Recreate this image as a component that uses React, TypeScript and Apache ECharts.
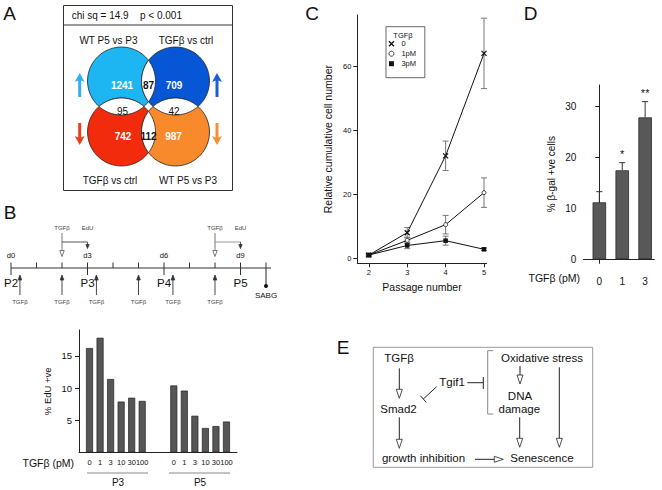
import { useEffect, useRef } from 'react';
import * as echarts from 'echarts';

// ---------- Panel A (Venn) ----------
const vennTitles = ['WT P5 vs P3', 'TGFβ vs ctrl', 'TGFβ vs ctrl', 'WT P5 vs P3'];
const vennOnly = [1241, 709, 742, 987]; // top-left, top-right, bottom-left, bottom-right
const vennShared = [87, 95, 42, 112]; // top, left, right, bottom overlaps
const chiText = 'chi sq = 14.9';
const pText = 'p < 0.001';

// ---------- Panel B (timeline) ----------
const dayMarks = ['d0', 'd3', 'd6', 'd9'];
const passageMarks = ['P2', 'P3', 'P4', 'P5'];
const tgfDays = [0.35, 2, 3.35, 5, 6.35, 8];
const eduPulses = [[2, 3], [8, 9]];

// ---------- Panel B (EdU bars) ----------
const eduDoses = ['0', '1', '3', '10', '30', '100'];
const eduP3 = [16.2, 17.8, 11.4, 7.9, 8.5, 8.0];
const eduP5 = [10.4, 9.6, 5.7, 3.8, 4.1, 4.8];
const eduTicks = [5, 10, 15];

// ---------- Panel C (growth) ----------
const passages = [2, 3, 4, 5];
const growth0 = [1, 8, 32, 64];
const growth0Err = [0.3, 1.6, 4.6, 11];
const growth1 = [1, 5.6, 10.5, 20.5];
const growth1Err = [0.3, 1.0, 2.9, 4.6];
const growth3 = [1, 4.0, 5.5, 2.8];
const growth3Err = [0.3, 1.0, 1.4, 0.4];
const growthTicks = [0, 20, 40, 60];
const growthNames = ['0', '1pM', '3pM'];

// ---------- Panel D (SA-beta-gal) ----------
const sabgDoses = ['0', '1', '3'];
const sabgValues = [11.2, 17.5, 27.9];
const sabgErr = [2.1, 1.5, 3.1];
const sabgStars = ['', '*', '**'];
const sabgTicks = [0, 10, 20, 30];

const F = '"Liberation Sans", Arial, Helvetica, sans-serif';
const CROSS = 'path://M0,0L10,10M10,0L0,10';
const SQUARE = 'path://M0,0L10,0L10,10L0,10Z';

function textStyle(text: string, size: number, fill: string, align: string, va: string, bold = false) {
  return {
    text, fontSize: size, fontFamily: F, fontWeight: bold ? 'bold' : 'normal',
    fill, textFill: fill, align, verticalAlign: va, textAlign: align, textVerticalAlign: va,
  };
}
function T(text: string, x: number, y: number, size: number, o: any = {}) {
  return {
    type: 'text', x, y, rotation: o.rot || 0, silent: true,
    style: textStyle(text, size, o.fill || '#111', o.align || 'center', o.va || 'middle', !!o.bold),
  };
}
function L(x1: number, y1: number, x2: number, y2: number, stroke = '#222', w = 1) {
  return { type: 'line', silent: true, shape: { x1, y1, x2, y2 }, style: { stroke, lineWidth: w } };
}
function P(points: number[][], fill: string, stroke = 'none', w = 0.8) {
  return { type: 'polygon', silent: true, shape: { points }, style: { fill, stroke, lineWidth: w } };
}
function arcPts(cx: number, cy: number, r: number, a0: number, a1: number, n = 28) {
  const pts: number[][] = [];
  for (let i = 0; i <= n; i++) {
    const a = a0 + ((a1 - a0) * i) / n;
    pts.push([cx + r * Math.cos(a), cy + r * Math.sin(a)]);
  }
  return pts;
}
function head(x: number, y: number, dir: string, len: number, half: number, fill: string, stroke = '#222') {
  let pts: number[][];
  if (dir === 'down') pts = [[x - half, y - len], [x + half, y - len], [x, y]];
  else if (dir === 'up') pts = [[x - half, y + len], [x + half, y + len], [x, y]];
  else pts = [[x - len, y - half], [x - len, y + half], [x, y]];
  return P(pts, fill, stroke, 0.8);
}
function fatArrow(x: number, tip: number, tail: number, color: string) {
  const s = tip < tail ? 1 : -1;
  return P([
    [x, tip], [x + 5, tip + 9 * s], [x + 1.5, tip + 7.5 * s], [x + 1.5, tail],
    [x - 1.5, tail], [x - 1.5, tip + 7.5 * s], [x - 5, tip + 9 * s],
  ], color);
}

function buildGraphics() {
  const g: any[] = [];
  // panel letters
  g.push(T('A', 9.5, 13.5, 19), T('B', 10, 212, 19), T('C', 312, 13, 19), T('D', 530.5, 13.5, 19), T('E', 343, 347, 19));

  // ---- Panel A ----
  g.push({ type: 'rect', silent: true, shape: { x: 63.5, y: 5.5, width: 169, height: 185 }, style: { fill: 'none', stroke: '#333', lineWidth: 1 } });
  g.push(L(63.5, 25, 232.5, 25, '#333'));
  g.push(T(chiText, 71.7, 15.3, 10, { align: 'left' }), T(pText, 140, 15.3, 10, { align: 'left' }));
  const r = 34;
  const C = [[121.5, 81], [175.5, 81], [121.5, 132], [175.5, 132]];
  const cols = ['#1db6f3', '#0656d6', '#f22b0c', '#f98a2c'];
  C.forEach((c, i) => g.push({ type: 'circle', silent: true, shape: { cx: c[0], cy: c[1], r }, style: { fill: cols[i], stroke: '#222', lineWidth: 0.8 } }));
  const a = Math.acos(27 / r);
  const b = Math.acos(25.5 / r);
  [81, 132].forEach((cy) => {
    g.push(P([...arcPts(121.5, cy, r, -a, a), ...arcPts(175.5, cy, r, Math.PI - a, Math.PI + a)], '#fff', '#222', 0.8));
  });
  [121.5, 175.5].forEach((cx) => {
    g.push(P([...arcPts(cx, 81, r, Math.PI / 2 - b, Math.PI / 2 + b), ...arcPts(cx, 132, r, -Math.PI / 2 - b, -Math.PI / 2 + b)], '#fff', '#222', 0.8));
  });
  const onlyPos = [[122, 85], [174, 85], [123, 136], [173.5, 136]];
  vennOnly.forEach((v, i) => g.push(T(String(v), onlyPos[i][0], onlyPos[i][1], 10, { bold: true, fill: '#fff' })));
  const sharedPos = [[148.5, 85], [122.5, 111], [174, 111], [148.5, 136]];
  const sharedBold = [true, false, false, true];
  vennShared.forEach((v, i) => g.push(T(String(v), sharedPos[i][0], sharedPos[i][1], 10, { bold: sharedBold[i] })));
  const titlePos = [[108.5, 40.3], [186, 40.3], [110, 180], [188, 180]];
  vennTitles.forEach((t, i) => g.push(T(t, titlePos[i][0], titlePos[i][1], 10)));
  g.push(fatArrow(79.7, 73, 97, '#2fb0ee'), fatArrow(79.7, 145, 123, '#e9401c'));
  g.push(fatArrow(217, 73, 97, '#1a5fd6'), fatArrow(217, 145, 123, '#f5902e'));

  // ---- Panel B timeline ----
  const dx = (d: number) => 11 + 25.5 * d;
  const ly = 268;
  g.push(L(dx(0), ly, dx(10) + 5, ly, '#333', 1));
  for (let d = 0; d <= 10; d++) {
    const major = d % 3 === 0 && d < 10;
    g.push(L(dx(d), ly - 5.5, dx(d), major ? ly + 7 : ly, '#333', 1));
  }
  dayMarks.forEach((t, i) => g.push(T(t, dx(i * 3), 255, 7.5)));
  passageMarks.forEach((t, i) => g.push(T(t, dx(i * 3), 283, 11.5)));
  tgfDays.forEach((d) => {
    const x = dx(d);
    g.push(L(x, 295, x, 279, '#333', 0.9), head(x, 275, 'up', 5, 1.8, '#333', '#333'));
    g.push(T('TGFβ', x, 302, 6, { fill: '#444' }));
  });
  eduPulses.forEach(([dt, de], k) => {
    const x1 = dx(dt), x2 = dx(de);
    g.push(T('TGFβ', x1, 228, 6, { fill: '#444' }), T('EdU', x2, 228, 6, { fill: '#444' }));
    g.push(L(x1, 233, x1, 250.5, '#555', 0.8), head(x1, 256.5, 'down', 6, 2.2, '#fff', '#555'));
    g.push(L(x1, 242, x2, 242, k === 0 ? '#555' : '#999', 1));
    g.push(L(x2, 242, x2, 245, '#333', 0.8), head(x2, 248.5, 'down', 4, 1.6, '#333', '#333'));
  });
  g.push(L(dx(10), ly, dx(10), 286, '#222', 1));
  g.push({ type: 'circle', silent: true, shape: { cx: dx(10), cy: 286, r: 2 }, style: { fill: '#111' } });
  g.push(T('SABG', dx(10), 295.5, 8));

  // ---- Panel B bar extras ----
  g.push(T('TGFβ (pM)', 74, 462.5, 10.5, { align: 'right' }));
  g.push(L(87, 473, 148, 473, '#888', 1), L(169, 473, 230, 473, '#888', 1));
  g.push(T('P3', 118, 482.5, 10), T('P5', 200, 482.5, 10));

  // ---- Panel C legend title ----
  g.push(T('TGFβ', 403, 35, 7.5));

  // ---- Panel D extras ----
  g.push(T('TGFβ (pM)', 580, 277.7, 10.5, { align: 'right' }));

  // ---- Panel E ----
  g.push({ type: 'rect', silent: true, shape: { x: 373.3, y: 347.3, width: 219.4, height: 120 }, style: { fill: 'none', stroke: '#999', lineWidth: 1 } });
  g.push(T('TGFβ', 399, 358.3, 11.5), T('Smad2', 398.5, 409.3, 11.5), T('growth inhibition', 423.5, 458, 11.5));
  g.push(T('Tgif1', 452, 381.7, 11.5), T('Oxidative stress', 542, 357.7, 11.5));
  g.push(T('DNA', 520, 396, 11.5), T('damage', 519.3, 408.8, 11.5), T('Senescence', 542, 458, 11.5));
  const vArrow = (x: number, y1: number, y2: number) => {
    g.push(L(x, y1, x, y2 - 9, '#222', 1), head(x, y2, 'down', 9, 3, '#fff', '#222'));
  };
  vArrow(399.3, 368.3, 398.3);
  vArrow(399.3, 417.3, 448.3);
  vArrow(520, 366, 384);
  vArrow(519.7, 417.3, 447.3);
  vArrow(559.3, 367.3, 447.3);
  g.push(L(475, 459.3, 494, 459.3, '#222', 1), head(503.3, 459.3, 'right', 9, 3, '#fff', '#222'));
  g.push(L(423.3, 399, 436.7, 386.7, '#222', 1), L(420.3, 395.7, 426.3, 402.3, '#222', 1));
  g.push(L(467.3, 382.7, 483.3, 382.7, '#222', 1), L(483.3, 377, 483.3, 389, '#222', 1));
  g.push({ type: 'polyline', silent: true, shape: { points: [[493.3, 350.7], [487.7, 350.7], [487.7, 414], [493.3, 414]] }, style: { fill: 'none', stroke: '#888', lineWidth: 1 } });
  return g;
}

export default function App() {
  const ref = useRef<HTMLDivElement>(null);
  useEffect(() => {
    document.body.style.margin = '0';
    if (!ref.current) return;
    const chart = echarts.init(ref.current, null, { renderer: 'svg' });

    const axisLine = { show: true, lineStyle: { color: '#222', width: 1 } };
    const lbl = (size: number, margin: number, extra: any = {}) => ({ color: '#111', fontSize: size, fontFamily: F, margin, ...extra });

    const bLabels = ['', ...eduDoses, '', '', ...eduDoses, ''];
    const bKeys = bLabels.map((_, i) => 'k' + i);
    const bData: any[] = ['-', ...eduP3, '-', '-', ...eduP5, '-'];

    const errData: number[][] = [];
    [[growth0, growth0Err], [growth1, growth1Err], [growth3, growth3Err]].forEach(([vals, errs]) => {
      vals.forEach((v, i) => errData.push([passages[i], v - errs[i], v + errs[i]]));
    });

    const lineCommon = { type: 'line', xAxisIndex: 1, yAxisIndex: 1, z: 3, lineStyle: { color: '#111', width: 1 } };

    chart.setOption({
      animation: false,
      textStyle: { fontFamily: F },
      grid: [
        { left: 79, top: 330, width: 158, height: 122.5, outerBoundsMode: 'none' },
        { left: 357.3, top: 15, width: 129.4, height: 248.3, outerBoundsMode: 'none' },
        { left: 583.3, top: 85, width: 71, height: 178.3, outerBoundsMode: 'none' },
      ],
      xAxis: [
        {
          gridIndex: 0, type: 'category', data: bKeys, boundaryGap: false, axisLine,
          axisTick: { show: false }, splitLine: { show: false },
          axisLabel: lbl(7.5, 6, { interval: 0, formatter: (_v: string, i: number) => bLabels[i] }),
        },
        {
          gridIndex: 1, type: 'value', min: 1.7, max: 5.07,
          axisLine: { ...axisLine, onZero: false },
          axisTick: { show: true, customValues: passages, length: 4, lineStyle: { color: '#222' } },
          axisLabel: lbl(7.5, 5, { customValues: passages }), splitLine: { show: false },
          name: 'Passage number', nameLocation: 'middle', nameGap: 16,
          nameTextStyle: { fontSize: 10.5, color: '#111', fontFamily: F },
        },
        {
          gridIndex: 2, type: 'value', min: -0.7, max: 2.4,
          axisLine: { ...axisLine, onZero: true }, axisTick: { show: false }, splitLine: { show: false },
          axisLabel: lbl(10, 13, { customValues: [0, 1, 2], formatter: (v: number) => sabgDoses[Math.round(v)] }),
        },
      ],
      yAxis: [
        {
          gridIndex: 0, type: 'value', min: 0, max: 19, axisLine,
          axisTick: { show: true, customValues: eduTicks, length: 4, lineStyle: { color: '#222' } },
          axisLabel: lbl(9.5, 7, { customValues: eduTicks }), splitLine: { show: false },
          name: '% EdU +ve', nameLocation: 'middle', nameGap: 27,
          nameTextStyle: { fontSize: 9.5, color: '#111', fontFamily: F },
        },
        {
          gridIndex: 1, type: 'value', min: -1.57, max: 76, axisLine,
          axisTick: { show: true, customValues: growthTicks, length: 4, lineStyle: { color: '#222' } },
          axisLabel: lbl(7.5, 6, { customValues: growthTicks }), splitLine: { show: false },
          name: 'Relative cumulative cell number', nameLocation: 'middle', nameGap: 24,
          nameTextStyle: { fontSize: 10.5, color: '#111', fontFamily: F },
        },
        {
          gridIndex: 2, type: 'value', min: -0.79, max: 34.27, axisLine,
          axisTick: { show: true, customValues: sabgTicks, length: 4, lineStyle: { color: '#222' } },
          axisLabel: lbl(10, 7, { customValues: sabgTicks }), splitLine: { show: false },
          name: '% β-gal +ve cells', nameLocation: 'middle', nameGap: 26.5,
          nameTextStyle: { fontSize: 10, color: '#111', fontFamily: F },
        },
      ],
      legend: {
        data: [
          { name: growthNames[0], icon: CROSS, itemStyle: { color: '#111', borderColor: '#111', borderWidth: 1.3 } },
          { name: growthNames[1], icon: 'circle', itemStyle: { color: '#fff', borderColor: '#111', borderWidth: 0.8 } },
          { name: growthNames[2], icon: SQUARE, itemStyle: { color: '#111', borderWidth: 0 } },
        ],
        orient: 'vertical', left: 386, top: 26.7, padding: [13, 8.8, 10, 2.3],
        itemGap: 2, itemWidth: 10, itemHeight: 5, selectedMode: false,
        textStyle: { fontSize: 7.5, color: '#111', fontFamily: F },
        borderColor: '#444', borderWidth: 0.8,
      },
      graphic: { elements: buildGraphics() },
      series: [
        {
          type: 'bar', xAxisIndex: 0, yAxisIndex: 0, data: bData, barWidth: 7,
          itemStyle: { color: '#565656', borderColor: '#222', borderWidth: 0.7 },
        },
        {
          type: 'custom', xAxisIndex: 1, yAxisIndex: 1, z: 1, data: errData,
          encode: { x: 0, y: [1, 2] },
          renderItem: (_p: any, api: any) => {
            const x = api.value(0);
            const lo = api.coord([x, api.value(1)]);
            const hi = api.coord([x, api.value(2)]);
            const st = { stroke: '#777', lineWidth: 1 };
            return {
              type: 'group', children: [
                { type: 'line', shape: { x1: lo[0], y1: lo[1], x2: hi[0], y2: hi[1] }, style: st },
                { type: 'line', shape: { x1: lo[0] - 3, y1: lo[1], x2: lo[0] + 3, y2: lo[1] }, style: st },
                { type: 'line', shape: { x1: hi[0] - 3, y1: hi[1], x2: hi[0] + 3, y2: hi[1] }, style: st },
              ],
            };
          },
        },
        {
          ...lineCommon, name: growthNames[0], data: growth0.map((v, i) => [passages[i], v]),
          symbol: CROSS, symbolSize: 5, itemStyle: { color: '#111', borderColor: '#111', borderWidth: 1.3 },
        },
        {
          ...lineCommon, name: growthNames[1], data: growth1.map((v, i) => [passages[i], v]),
          symbol: 'circle', symbolSize: 4, itemStyle: { color: '#fff', borderColor: '#111', borderWidth: 0.8 },
        },
        {
          ...lineCommon, name: growthNames[2], data: growth3.map((v, i) => [passages[i], v]),
          symbol: 'rect', symbolSize: 4.5, itemStyle: { color: '#111', borderWidth: 0 },
        },
        {
          type: 'bar', xAxisIndex: 2, yAxisIndex: 2, barWidth: 13.5,
          data: sabgValues.map((v, i) => [i, v]),
          itemStyle: { color: '#585858', borderColor: '#2a2a2a', borderWidth: 0.8 },
        },
        {
          type: 'custom', xAxisIndex: 2, yAxisIndex: 2, z: 3,
          data: sabgValues.map((v, i) => [i, v, v + sabgErr[i]]),
          encode: { x: 0, y: [1, 2] },
          renderItem: (p: any, api: any) => {
            const x = api.value(0);
            const b = api.coord([x, api.value(1)]);
            const t = api.coord([x, api.value(2)]);
            const st = { stroke: '#333', lineWidth: 1 };
            return {
              type: 'group', children: [
                { type: 'line', shape: { x1: b[0], y1: b[1], x2: t[0], y2: t[1] }, style: st },
                { type: 'line', shape: { x1: t[0] - 3, y1: t[1], x2: t[0] + 3, y2: t[1] }, style: st },
                {
                  type: 'text', x: t[0], y: t[1] - 9,
                  style: textStyle(sabgStars[p.dataIndex], 11, '#111', 'center', 'middle'),
                },
              ],
            };
          },
        },
      ],
    });
    return () => chart.dispose();
  }, []);
  return <div ref={ref} style={{ width: 662, height: 490 }} />;
}
